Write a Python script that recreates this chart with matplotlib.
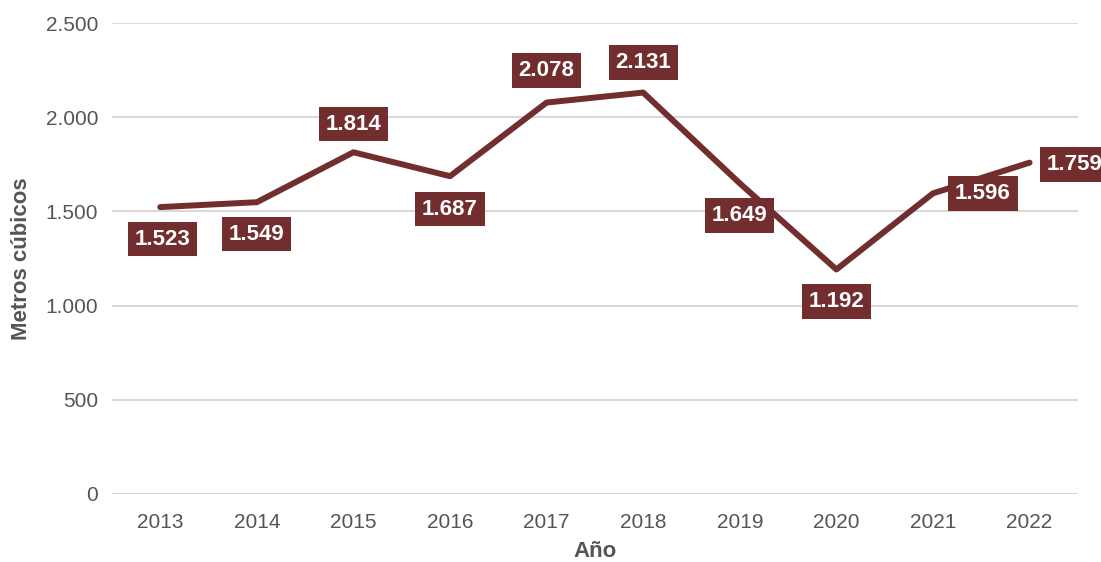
import matplotlib

matplotlib.use("Agg")
import matplotlib.pyplot as plt
import numpy as np

plt.rcParams["font.family"] = ["Liberation Sans", "DejaVu Sans"]

years = ["2013", "2014", "2015", "2016", "2017", "2018", "2019", "2020", "2021", "2022"]
volumes = [1523, 1549, 1814, 1687, 2078, 2131, 1649, 1192, 1596, 1759]
value_labels = ["1.523", "1.549", "1.814", "1.687", "2.078", "2.131", "1.649", "1.192", "1.596", "1.759"]
y_ticks = [0, 500, 1000, 1500, 2000, 2500]
y_tick_labels = ["0", "500", "1.000", "1.500", "2.000", "2.500"]

# label offsets from each point, in pixels
label_offsets = [(2, -32), (0, -32), (0, 28), (0, -33), (0, 32),
                 (0, 30), (0, -32), (0, -32), (50, 0), (45, -2)]

maroon = "#722e2e"
grey = "#555555"


def main():
    fig = plt.figure(figsize=(11.01, 5.62), dpi=100)
    ax = fig.add_axes([0.1017, 0.121, 0.8773, 0.838])

    x = np.arange(len(years))
    ax.plot(x, volumes, color=maroon, linewidth=4.3, solid_capstyle="round",
            solid_joinstyle="round", zorder=3)

    for xi, val, lab, (dx, dy) in zip(x, volumes, value_labels, label_offsets):
        ax.annotate(
            lab,
            xy=(xi, val),
            xytext=(dx, dy),
            textcoords="offset pixels",
            ha="center",
            va="center",
            color="white",
            fontsize=16,
            fontweight="bold",
            bbox=dict(boxstyle="square,pad=0.3", fc=maroon, ec="none"),
            zorder=4,
            annotation_clip=False,
        )

    ax.set_xlim(-0.5, len(years) - 0.5)
    ax.set_ylim(0, 2500)
    ax.set_xticks(x)
    ax.set_xticklabels(years)
    ax.set_yticks(y_ticks)
    ax.set_yticklabels(y_tick_labels)
    ax.tick_params(length=0, labelsize=15, colors=grey, pad=10)
    ax.tick_params(axis="x", pad=14)
    ax.grid(axis="y", color="#d9d9d9", linewidth=1.5)
    ax.set_axisbelow(True)
    for s in ax.spines.values():
        s.set_visible(False)

    ax.set_xlabel("Año", fontsize=16, fontweight="bold", color=grey, labelpad=6)
    ax.set_ylabel("Metros cúbicos", fontsize=16, fontweight="bold", color=grey, labelpad=10)

    fig.savefig("out.png", dpi=100)
    plt.close(fig)


if __name__ == "__main__":
    main()
